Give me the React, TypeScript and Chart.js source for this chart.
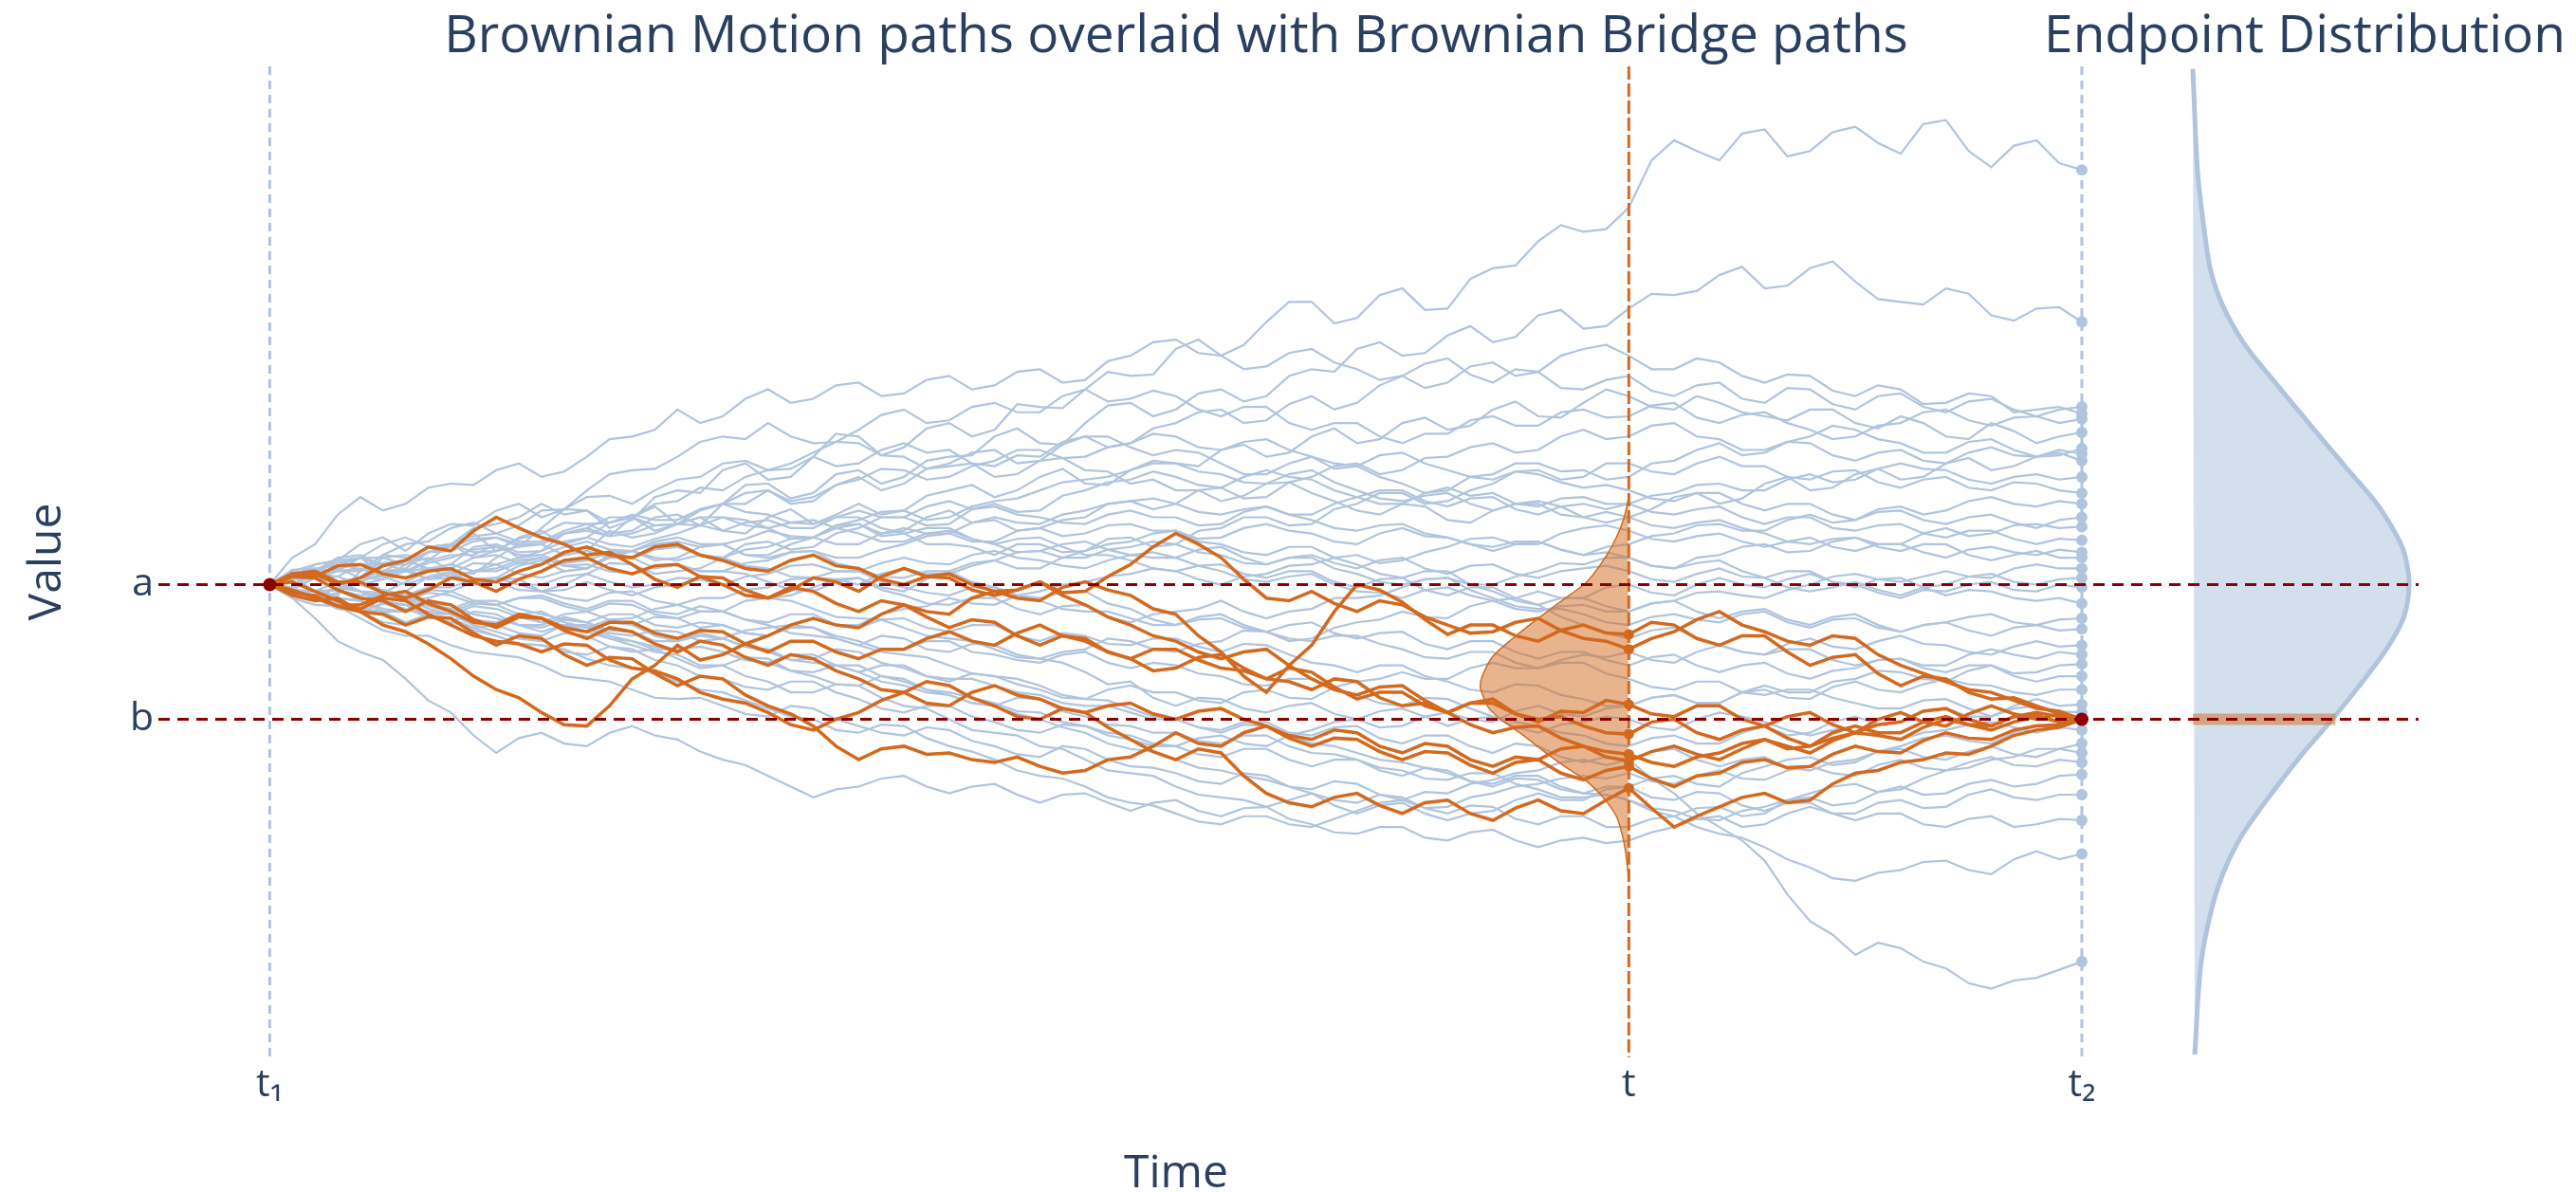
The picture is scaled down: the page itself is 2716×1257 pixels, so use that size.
import React, { useEffect, useRef } from 'react';
import { Chart, registerables } from 'chart.js';

Chart.register(...registerables);

// ---------------- data ----------------
const TIME = [0, 0.0125, 0.025, 0.0375, 0.05, 0.0625, 0.075, 0.0875, 0.1, 0.1125, 0.125, 0.1375, 0.15, 0.1625, 0.175, 0.1875, 0.2, 0.2125, 0.225, 0.2375,
  0.25, 0.2625, 0.275, 0.2875, 0.3, 0.3125, 0.325, 0.3375, 0.35, 0.3625, 0.375, 0.3875, 0.4, 0.4125, 0.425, 0.4375, 0.45, 0.4625, 0.475, 0.4875,
  0.5, 0.5125, 0.525, 0.5375, 0.55, 0.5625, 0.575, 0.5875, 0.6, 0.6125, 0.625, 0.6375, 0.65, 0.6625, 0.675, 0.6875, 0.7, 0.7125, 0.725, 0.7375,
  0.75, 0.7625, 0.775, 0.7875, 0.8, 0.8125, 0.825, 0.8375, 0.85, 0.8625, 0.875, 0.8875, 0.9, 0.9125, 0.925, 0.9375, 0.95, 0.9625, 0.975, 0.9875, 1];

const T_START = 0;
const T_MID = 0.75;
const T_END = 1;
const A_VALUE = 0;
const B_VALUE = -1;

const X_TICK_VALUES = [T_START, T_MID, T_END];
const X_TICK_LABELS = ['t\u2081', 't', 't\u2082'];
const Y_TICK_VALUES = [A_VALUE, B_VALUE];
const Y_TICK_LABELS = ['a', 'b'];

const MAIN_TITLE = 'Brownian Motion paths overlaid with Brownian Bridge paths';
const SIDE_TITLE = 'Endpoint Distribution';
const X_TITLE = 'Time';
const Y_TITLE = 'Value';

// Brownian motion paths (light blue)
const bm01 = [0, 0.11, 0.12, 0.0, 0.05, 0.2, 0.22, 0.18, 0.3, 0.38, 0.25, 0.28, 0.42, 0.56, 0.55, 0.42, 0.48, 0.65, 0.7, 0.68, 0.85, 0.9, 0.78, 0.8, 0.95, 1.12, 1.1, 0.96, 1.02, 1.16, 1.2, 1.1, 1.15, 1.34, 1.32, 1.31, 1.45, 1.58, 1.55, 1.56, 1.75, 1.82, 1.7, 1.78, 1.95, 2.1, 2.1, 1.94, 1.98, 2.15, 2.2, 2.04, 2.05, 2.27, 2.35, 2.37, 2.55, 2.67, 2.62, 2.64, 2.8, 3.15, 3.3, 3.22, 3.15, 3.35, 3.38, 3.18, 3.22, 3.36, 3.4, 3.28, 3.2, 3.42, 3.45, 3.22, 3.1, 3.26, 3.3, 3.13, 3.08];
const bm02 = [0, 0.06, -0.05, -0.08, 0.1, 0.22, 0.2, 0.1, 0.15, 0.28, 0.3, 0.2, 0.25, 0.38, 0.4, 0.36, 0.5, 0.58, 0.45, 0.44, 0.6, 0.74, 0.75, 0.64, 0.68, 0.82, 0.85, 0.75, 0.8, 0.92, 0.95, 0.96, 1.1, 1.16, 1.05, 1.04, 1.2, 1.33, 1.35, 1.25, 1.3, 1.42, 1.45, 1.36, 1.4, 1.55, 1.6, 1.58, 1.75, 1.8, 1.7, 1.72, 1.85, 1.92, 1.8, 1.84, 2.0, 2.04, 1.9, 1.92, 2.05, 2.16, 2.15, 2.18, 2.3, 2.36, 2.2, 2.22, 2.35, 2.4, 2.25, 2.12, 2.1, 2.08, 2.2, 2.16, 2.0, 1.96, 2.05, 2.06, 1.95];
const bm03 = [0, 0.2, 0.3, 0.52, 0.65, 0.55, 0.6, 0.72, 0.75, 0.74, 0.85, 0.9, 0.8, 0.84, 0.95, 1.08, 1.1, 1.15, 1.3, 1.2, 1.25, 1.38, 1.45, 1.35, 1.38, 1.48, 1.5, 1.4, 1.42, 1.52, 1.55, 1.45, 1.48, 1.58, 1.6, 1.5, 1.52, 1.66, 1.7, 1.8, 1.82, 1.72, 1.7, 1.6, 1.62, 1.72, 1.75, 1.65, 1.6, 1.52, 1.55, 1.64, 1.68, 1.56, 1.5, 1.6, 1.58, 1.46, 1.45, 1.52, 1.55, 1.44, 1.4, 1.48, 1.5, 1.38, 1.35, 1.46, 1.45, 1.34, 1.3, 1.4, 1.42, 1.32, 1.28, 1.36, 1.38, 1.3, 1.25, 1.3, 1.32];
const bm04 = [0, -0.02, 0.1, 0.18, 0.2, 0.08, 0.12, 0.24, 0.3, 0.2, 0.25, 0.35, 0.4, 0.3, 0.35, 0.46, 0.5, 0.4, 0.45, 0.56, 0.6, 0.6, 0.7, 0.6, 0.62, 0.74, 0.8, 0.7, 0.75, 0.86, 0.9, 0.98, 1.0, 0.9, 0.92, 1.04, 1.1, 1.02, 1.05, 1.16, 1.2, 1.28, 1.3, 1.2, 1.22, 1.34, 1.4, 1.3, 1.35, 1.48, 1.55, 1.46, 1.5, 1.62, 1.65, 1.55, 1.58, 1.7, 1.75, 1.78, 1.7, 1.6, 1.6, 1.68, 1.65, 1.55, 1.5, 1.56, 1.55, 1.44, 1.4, 1.48, 1.45, 1.34, 1.35, 1.42, 1.4, 1.28, 1.3, 1.32, 1.27];
const bm05 = [0, 0.1, 0.15, 0.18, 0.3, 0.35, 0.25, 0.38, 0.45, 0.44, 0.55, 0.6, 0.5, 0.56, 0.7, 0.82, 0.85, 0.86, 0.95, 1.06, 1.1, 1.08, 1.2, 1.1, 1.05, 1.06, 1.15, 1.26, 1.3, 1.2, 1.22, 1.32, 1.35, 1.28, 1.28, 1.4, 1.45, 1.36, 1.38, 1.44, 1.4, 1.3, 1.25, 1.32, 1.32, 1.2, 1.15, 1.2, 1.2, 1.1, 1.05, 1.12, 1.12, 1.22, 1.25, 1.18, 1.18, 1.28, 1.3, 1.24, 1.25, 1.33, 1.35, 1.24, 1.2, 1.26, 1.28, 1.2, 1.15, 1.08, 1.1, 1.18, 1.2, 1.28, 1.3, 1.22, 1.18, 1.24, 1.25, 1.2, 1.23];
const bm06 = [0, -0.08, -0.1, -0.06, 0.05, 0.04, 0.15, 0.2, 0.1, 0.08, 0.2, 0.3, 0.3, 0.22, 0.25, 0.4, 0.35, 0.38, 0.45, 0.5, 0.4, 0.38, 0.5, 0.56, 0.45, 0.52, 0.6, 0.52, 0.55, 0.66, 0.7, 0.74, 0.65, 0.7, 0.8, 0.86, 0.75, 0.74, 0.85, 0.92, 0.9, 0.88, 1.0, 1.04, 0.95, 0.98, 1.1, 1.16, 1.05, 1.08, 1.2, 1.24, 1.15, 1.18, 1.3, 1.36, 1.25, 1.24, 1.35, 1.45, 1.4, 1.32, 1.3, 1.4, 1.35, 1.28, 1.25, 1.22, 1.3, 1.3, 1.2, 1.16, 1.25, 1.2, 1.1, 1.08, 1.2, 1.14, 1.05, 1.1, 1.13];
const bm07 = [0, 0.1, 0.08, 0.1, 0.2, 0.3, 0.35, 0.28, 0.3, 0.42, 0.45, 0.5, 0.6, 0.52, 0.55, 0.46, 0.5, 0.6, 0.62, 0.72, 0.7, 0.8, 0.85, 0.86, 0.95, 0.88, 0.9, 1.0, 1.05, 0.98, 1.0, 0.9, 0.88, 0.96, 0.95, 1.06, 1.1, 1.1, 1.02, 0.96, 1.0, 0.98, 0.9, 0.82, 0.82, 0.9, 0.95, 0.86, 0.88, 0.8, 0.75, 0.68, 0.7, 0.8, 0.82, 0.9, 0.9, 0.84, 0.85, 0.78, 0.8, 0.9, 0.92, 1.0, 1.05, 0.96, 0.98, 1.06, 1.1, 1.18, 1.15, 1.08, 1.05, 0.98, 0.98, 1.06, 1.08, 1.0, 0.95, 0.96, 1.01];
const bm08 = [0, 0.02, -0.05, -0.14, -0.15, -0.08, -0.05, 0.06, 0.1, 0.0, 0.05, 0.14, 0.18, 0.1, 0.12, 0.22, 0.25, 0.18, 0.2, 0.28, 0.3, 0.22, 0.22, 0.3, 0.35, 0.42, 0.45, 0.38, 0.4, 0.5, 0.55, 0.46, 0.48, 0.4, 0.42, 0.48, 0.5, 0.6, 0.62, 0.56, 0.6, 0.7, 0.72, 0.64, 0.65, 0.76, 0.8, 0.88, 0.9, 0.82, 0.85, 0.94, 0.95, 1.02, 1.05, 0.98, 1.0, 1.1, 1.15, 1.08, 1.1, 1.18, 1.2, 1.1, 1.08, 1.0, 1.0, 1.06, 1.05, 0.96, 0.92, 0.98, 1.0, 0.92, 0.9, 0.98, 1.02, 0.96, 0.95, 1.0, 0.97];
const bm09 = [0, 0.05, 0.15, 0.18, 0.1, 0.22, 0.3, 0.32, 0.42, 0.46, 0.38, 0.44, 0.55, 0.56, 0.65, 0.66, 0.6, 0.7, 0.78, 0.8, 0.9, 0.92, 0.85, 0.9, 0.98, 1.06, 1.05, 0.96, 0.95, 0.86, 0.88, 0.9, 0.8, 0.82, 0.92, 0.94, 0.85, 0.84, 0.75, 0.78, 0.7, 0.7, 0.62, 0.66, 0.75, 0.76, 0.68, 0.62, 0.55, 0.52, 0.6, 0.58, 0.48, 0.46, 0.55, 0.6, 0.62, 0.58, 0.5, 0.46, 0.5, 0.56, 0.65, 0.68, 0.6, 0.64, 0.75, 0.8, 0.7, 0.72, 0.82, 0.86, 0.78, 0.8, 0.9, 0.94, 0.85, 0.88, 0.95, 0.98, 0.92];
const bm10 = [0, -0.04, 0.05, -0.04, -0.08, -0.06, 0.02, 0.1, 0.12, 0.04, 0.05, 0.04, -0.05, 0.0, 0.08, 0.16, 0.15, 0.08, 0.1, 0.12, 0.2, 0.3, 0.32, 0.26, 0.28, 0.38, 0.42, 0.5, 0.5, 0.44, 0.45, 0.56, 0.6, 0.54, 0.55, 0.66, 0.7, 0.76, 0.78, 0.84, 0.8, 0.74, 0.72, 0.8, 0.85, 0.8, 0.78, 0.7, 0.65, 0.7, 0.7, 0.62, 0.58, 0.64, 0.65, 0.56, 0.52, 0.58, 0.6, 0.56, 0.6, 0.66, 0.68, 0.74, 0.75, 0.7, 0.7, 0.78, 0.82, 0.76, 0.78, 0.86, 0.9, 0.86, 0.85, 0.78, 0.75, 0.8, 0.82, 0.78, 0.8];
const bm11 = [0, 0.08, 0.1, 0.2, 0.22, 0.14, 0.18, 0.28, 0.3, 0.24, 0.25, 0.34, 0.38, 0.46, 0.45, 0.38, 0.4, 0.5, 0.52, 0.44, 0.5, 0.48, 0.42, 0.34, 0.35, 0.44, 0.45, 0.36, 0.38, 0.3, 0.3, 0.28, 0.22, 0.3, 0.3, 0.24, 0.25, 0.34, 0.35, 0.28, 0.3, 0.4, 0.42, 0.5, 0.5, 0.44, 0.45, 0.56, 0.6, 0.68, 0.68, 0.6, 0.62, 0.7, 0.75, 0.84, 0.85, 0.78, 0.8, 0.9, 0.9, 0.84, 0.82, 0.9, 0.95, 0.88, 0.88, 0.8, 0.78, 0.84, 0.85, 0.76, 0.72, 0.78, 0.8, 0.72, 0.7, 0.76, 0.75, 0.7, 0.68];
const bm12 = [0, -0.06, -0.08, -0.16, -0.15, -0.08, -0.05, -0.14, -0.2, -0.26, -0.28, -0.22, -0.2, -0.28, -0.32, -0.26, -0.25, -0.18, -0.15, -0.2, -0.2, -0.12, -0.1, -0.08, -0.02, 0.04, 0.05, -0.02, -0.05, 0.04, 0.1, 0.16, 0.18, 0.12, 0.12, 0.2, 0.25, 0.3, 0.32, 0.38, 0.4, 0.34, 0.35, 0.42, 0.45, 0.4, 0.38, 0.32, 0.3, 0.38, 0.42, 0.36, 0.35, 0.3, 0.25, 0.3, 0.32, 0.26, 0.22, 0.28, 0.3, 0.36, 0.38, 0.44, 0.45, 0.4, 0.4, 0.48, 0.52, 0.46, 0.48, 0.56, 0.58, 0.52, 0.55, 0.62, 0.65, 0.6, 0.58, 0.62, 0.6];
const bm13 = [0, 0.04, 0.1, 0.12, 0.05, 0.1, 0.18, 0.24, 0.25, 0.32, 0.35, 0.28, 0.3, 0.38, 0.42, 0.5, 0.5, 0.44, 0.45, 0.55, 0.6, 0.68, 0.7, 0.62, 0.65, 0.74, 0.78, 0.86, 0.85, 0.78, 0.8, 0.88, 0.92, 1.0, 1.0, 0.94, 0.95, 1.02, 1.05, 1.12, 1.1, 1.02, 1.0, 1.06, 1.08, 1.0, 0.95, 0.9, 0.88, 0.96, 0.98, 0.9, 0.85, 0.8, 0.78, 0.84, 0.82, 0.76, 0.72, 0.74, 0.7, 0.64, 0.62, 0.68, 0.68, 0.6, 0.55, 0.6, 0.6, 0.52, 0.48, 0.54, 0.55, 0.48, 0.45, 0.5, 0.52, 0.46, 0.42, 0.48, 0.5];
const bm14 = [0, 0.02, -0.05, -0.04, 0.05, 0.1, 0.12, 0.04, 0.08, 0.16, 0.15, 0.08, 0.05, 0.1, 0.12, 0.2, 0.2, 0.12, 0.15, 0.1, 0.1, 0.08, 0.02, -0.04, -0.05, 0.02, 0.05, -0.04, -0.08, -0.14, -0.15, -0.1, -0.1, -0.18, -0.22, -0.16, -0.15, -0.24, -0.28, -0.22, -0.2, -0.18, -0.12, -0.2, -0.25, -0.2, -0.18, -0.1, -0.1, -0.08, -0.02, 0.04, 0.05, 0.0, 0.0, 0.06, 0.1, 0.16, 0.15, 0.2, 0.2, 0.14, 0.12, 0.2, 0.22, 0.28, 0.3, 0.24, 0.25, 0.32, 0.35, 0.3, 0.3, 0.38, 0.42, 0.36, 0.38, 0.44, 0.45, 0.42, 0.43];
const bm15 = [0, 0.06, 0.08, 0.06, 0.15, 0.16, 0.1, 0.18, 0.22, 0.22, 0.3, 0.24, 0.25, 0.32, 0.35, 0.3, 0.28, 0.34, 0.38, 0.44, 0.4, 0.46, 0.48, 0.42, 0.42, 0.5, 0.55, 0.5, 0.5, 0.58, 0.62, 0.56, 0.58, 0.52, 0.5, 0.46, 0.45, 0.52, 0.55, 0.5, 0.5, 0.44, 0.45, 0.54, 0.58, 0.52, 0.52, 0.6, 0.65, 0.6, 0.6, 0.68, 0.72, 0.66, 0.68, 0.6, 0.58, 0.64, 0.65, 0.6, 0.6, 0.54, 0.52, 0.56, 0.58, 0.5, 0.45, 0.5, 0.5, 0.42, 0.4, 0.44, 0.45, 0.38, 0.35, 0.4, 0.4, 0.34, 0.3, 0.34, 0.33];
const bm16 = [0, 0.02, -0.05, -0.1, -0.12, -0.18, -0.2, -0.14, -0.15, -0.22, -0.25, -0.3, -0.32, -0.26, -0.28, -0.36, -0.38, -0.34, -0.35, -0.42, -0.4, -0.34, -0.32, -0.3, -0.25, -0.3, -0.3, -0.22, -0.18, -0.16, -0.1, -0.14, -0.15, -0.08, -0.05, 0.0, 0.02, 0.06, 0.08, 0.12, 0.1, 0.04, 0.0, 0.06, 0.08, 0.14, 0.15, 0.2, 0.22, 0.16, 0.18, 0.24, 0.28, 0.34, 0.35, 0.3, 0.3, 0.38, 0.42, 0.44, 0.4, 0.34, 0.32, 0.36, 0.38, 0.32, 0.28, 0.32, 0.35, 0.28, 0.25, 0.3, 0.3, 0.24, 0.2, 0.26, 0.28, 0.24, 0.22, 0.26, 0.24];
const bm17 = [0, -0.02, 0.05, 0.06, 0.0, 0.04, 0.1, 0.12, 0.05, 0.1, 0.15, 0.2, 0.22, 0.16, 0.18, 0.24, 0.25, 0.3, 0.32, 0.28, 0.3, 0.34, 0.4, 0.36, 0.35, 0.44, 0.48, 0.54, 0.55, 0.48, 0.5, 0.58, 0.62, 0.64, 0.7, 0.76, 0.78, 0.8, 0.85, 0.9, 0.9, 0.84, 0.82, 0.76, 0.75, 0.82, 0.85, 0.76, 0.7, 0.64, 0.62, 0.66, 0.68, 0.6, 0.55, 0.6, 0.6, 0.52, 0.5, 0.54, 0.5, 0.44, 0.42, 0.46, 0.48, 0.42, 0.38, 0.32, 0.3, 0.34, 0.35, 0.28, 0.25, 0.3, 0.3, 0.22, 0.18, 0.22, 0.25, 0.2, 0.2];
const bm18 = [0, 0.04, 0.05, 0.02, -0.05, -0.06, -0.12, -0.1, -0.05, 0.02, 0.05, 0.0, 0.0, 0.06, 0.08, 0.02, -0.02, 0.0, 0.05, 0.04, 0.0, 0.06, 0.08, 0.14, 0.15, 0.1, 0.1, 0.16, 0.2, 0.16, 0.15, 0.22, 0.25, 0.2, 0.18, 0.14, 0.12, 0.18, 0.22, 0.2, 0.2, 0.14, 0.1, 0.04, 0.02, 0.06, 0.08, 0.0, -0.05, -0.06, -0.1, -0.04, -0.02, -0.08, -0.12, -0.18, -0.2, -0.16, -0.15, -0.2, -0.2, -0.14, -0.12, -0.06, -0.05, -0.08, -0.1, -0.04, 0.0, 0.06, 0.08, 0.04, 0.02, 0.06, 0.1, 0.06, 0.05, 0.12, 0.15, 0.12, 0.12];
const bm19 = [0, 0.06, 0.1, 0.16, 0.2, 0.14, 0.15, 0.24, 0.28, 0.34, 0.35, 0.3, 0.3, 0.38, 0.42, 0.36, 0.38, 0.44, 0.45, 0.5, 0.5, 0.44, 0.42, 0.46, 0.48, 0.42, 0.38, 0.32, 0.32, 0.38, 0.4, 0.34, 0.3, 0.24, 0.25, 0.3, 0.32, 0.26, 0.22, 0.24, 0.2, 0.26, 0.28, 0.2, 0.15, 0.2, 0.22, 0.16, 0.12, 0.18, 0.2, 0.12, 0.08, 0.14, 0.15, 0.08, 0.05, 0.1, 0.12, 0.14, 0.1, 0.04, 0.02, 0.08, 0.12, 0.06, 0.05, -0.02, -0.05, -0.02, 0.02, -0.04, -0.08, -0.02, 0.0, 0.06, 0.08, 0.02, 0.0, 0.04, 0.05];
const bm20 = [0, -0.06, -0.1, -0.02, -0.05, -0.12, -0.15, -0.2, -0.22, -0.16, -0.18, -0.24, -0.28, -0.22, -0.2, -0.26, -0.3, -0.24, -0.25, -0.32, -0.3, -0.36, -0.38, -0.3, -0.32, -0.4, -0.45, -0.38, -0.4, -0.48, -0.5, -0.44, -0.45, -0.52, -0.55, -0.5, -0.48, -0.4, -0.42, -0.48, -0.5, -0.44, -0.42, -0.34, -0.35, -0.42, -0.4, -0.32, -0.28, -0.26, -0.2, -0.24, -0.25, -0.16, -0.12, -0.1, -0.05, -0.1, -0.1, -0.02, 0.0, -0.06, -0.08, 0.0, 0.05, 0.0, -0.02, 0.04, 0.08, 0.02, 0.0, -0.06, -0.1, -0.04, -0.05, 0.0, 0.02, -0.04, -0.05, 0.0, -0.02];
const bm21 = [0, 0.04, 0.05, 0.1, 0.12, 0.06, 0.05, 0.12, 0.15, 0.1, 0.1, 0.16, 0.2, 0.14, 0.12, 0.2, 0.25, 0.2, 0.18, 0.22, 0.2, 0.26, 0.28, 0.34, 0.35, 0.3, 0.3, 0.38, 0.42, 0.38, 0.38, 0.46, 0.5, 0.46, 0.45, 0.52, 0.55, 0.6, 0.62, 0.64, 0.6, 0.54, 0.52, 0.56, 0.58, 0.52, 0.48, 0.42, 0.4, 0.44, 0.45, 0.38, 0.35, 0.3, 0.28, 0.32, 0.32, 0.26, 0.22, 0.24, 0.2, 0.14, 0.12, 0.16, 0.18, 0.1, 0.05, 0.1, 0.1, 0.02, -0.02, 0.04, 0.05, -0.02, -0.08, -0.04, -0.05, -0.1, -0.12, -0.1, -0.14];
const bm22 = [0, 0.02, -0.05, -0.04, 0.02, -0.04, -0.08, -0.02, -0.02, 0.04, 0.05, 0.0, -0.05, -0.1, -0.12, -0.06, -0.05, -0.12, -0.15, -0.1, -0.1, -0.04, -0.02, 0.04, 0.05, 0.04, 0.0, 0.08, 0.12, 0.08, 0.08, 0.14, 0.18, 0.24, 0.25, 0.2, 0.2, 0.26, 0.28, 0.32, 0.3, 0.24, 0.22, 0.16, 0.15, 0.2, 0.2, 0.12, 0.08, 0.02, 0.0, 0.04, 0.05, -0.04, -0.1, -0.16, -0.18, -0.18, -0.22, -0.28, -0.3, -0.24, -0.22, -0.26, -0.28, -0.22, -0.2, -0.28, -0.32, -0.26, -0.25, -0.32, -0.35, -0.3, -0.28, -0.24, -0.22, -0.28, -0.3, -0.26, -0.25];
const bm23 = [0, 0.08, 0.12, 0.14, 0.2, 0.2, 0.15, 0.24, 0.3, 0.36, 0.38, 0.32, 0.32, 0.4, 0.45, 0.46, 0.52, 0.48, 0.48, 0.56, 0.6, 0.54, 0.52, 0.46, 0.45, 0.5, 0.5, 0.42, 0.38, 0.42, 0.42, 0.34, 0.3, 0.34, 0.35, 0.28, 0.22, 0.22, 0.18, 0.12, 0.1, 0.14, 0.15, 0.08, 0.05, 0.1, 0.1, 0.02, -0.02, 0.04, 0.05, -0.04, -0.08, -0.02, -0.02, -0.1, -0.15, -0.1, -0.1, -0.16, -0.2, -0.14, -0.12, -0.2, -0.25, -0.2, -0.18, -0.26, -0.3, -0.24, -0.22, -0.3, -0.35, -0.3, -0.28, -0.34, -0.38, -0.32, -0.3, -0.34, -0.33];
const bm24 = [0, -0.08, -0.1, -0.12, -0.2, -0.14, -0.15, -0.24, -0.28, -0.2, -0.22, -0.3, -0.35, -0.3, -0.3, -0.38, -0.42, -0.48, -0.48, -0.46, -0.5, -0.56, -0.58, -0.52, -0.52, -0.6, -0.65, -0.6, -0.6, -0.68, -0.72, -0.66, -0.68, -0.74, -0.78, -0.84, -0.85, -0.78, -0.75, -0.8, -0.8, -0.86, -0.88, -0.8, -0.78, -0.84, -0.85, -0.76, -0.72, -0.7, -0.65, -0.7, -0.7, -0.62, -0.58, -0.62, -0.62, -0.56, -0.52, -0.54, -0.5, -0.56, -0.58, -0.5, -0.45, -0.5, -0.52, -0.44, -0.4, -0.46, -0.48, -0.42, -0.38, -0.44, -0.45, -0.5, -0.52, -0.46, -0.42, -0.46, -0.45];
const bm25 = [0, 0.04, 0.05, 0.12, 0.15, 0.1, 0.1, 0.16, 0.2, 0.26, 0.28, 0.22, 0.22, 0.28, 0.32, 0.26, 0.25, 0.32, 0.35, 0.3, 0.3, 0.22, 0.2, 0.24, 0.25, 0.16, 0.12, 0.06, 0.05, 0.1, 0.1, 0.02, -0.02, -0.08, -0.1, -0.06, -0.05, -0.14, -0.18, -0.26, -0.3, -0.24, -0.22, -0.3, -0.35, -0.3, -0.28, -0.36, -0.4, -0.36, -0.35, -0.44, -0.48, -0.42, -0.42, -0.5, -0.55, -0.5, -0.5, -0.56, -0.6, -0.54, -0.52, -0.6, -0.65, -0.6, -0.58, -0.66, -0.7, -0.64, -0.62, -0.56, -0.55, -0.6, -0.6, -0.52, -0.48, -0.52, -0.55, -0.5, -0.52];
const bm26 = [0, -0.06, -0.08, -0.02, 0.0, -0.06, -0.1, -0.04, -0.05, -0.12, -0.15, -0.1, -0.08, -0.14, -0.18, -0.12, -0.12, -0.2, -0.22, -0.16, -0.2, -0.26, -0.28, -0.22, -0.22, -0.3, -0.32, -0.26, -0.25, -0.32, -0.35, -0.3, -0.3, -0.38, -0.42, -0.36, -0.38, -0.44, -0.45, -0.4, -0.4, -0.46, -0.5, -0.44, -0.45, -0.52, -0.58, -0.6, -0.65, -0.6, -0.6, -0.68, -0.72, -0.78, -0.8, -0.74, -0.75, -0.82, -0.85, -0.9, -0.9, -0.84, -0.82, -0.88, -0.88, -0.8, -0.75, -0.8, -0.8, -0.72, -0.7, -0.64, -0.65, -0.7, -0.72, -0.64, -0.6, -0.66, -0.65, -0.6, -0.59];
const bm27 = [0, 0.06, 0.08, 0.02, 0.02, 0.08, 0.1, 0.04, 0.05, 0.1, 0.12, 0.18, 0.2, 0.14, 0.15, 0.1, 0.08, 0.14, 0.15, 0.1, 0.1, 0.16, 0.18, 0.24, 0.25, 0.2, 0.2, 0.26, 0.3, 0.36, 0.38, 0.32, 0.32, 0.4, 0.42, 0.36, 0.38, 0.44, 0.45, 0.4, 0.4, 0.32, 0.3, 0.24, 0.22, 0.28, 0.28, 0.2, 0.15, 0.08, 0.05, 0.1, 0.1, 0.0, -0.05, -0.12, -0.15, -0.24, -0.3, -0.36, -0.4, -0.34, -0.32, -0.4, -0.45, -0.5, -0.52, -0.48, -0.48, -0.56, -0.6, -0.56, -0.55, -0.62, -0.65, -0.6, -0.6, -0.68, -0.72, -0.68, -0.68];
const bm28 = [0, -0.08, -0.12, -0.1, -0.2, -0.28, -0.3, -0.24, -0.25, -0.34, -0.38, -0.44, -0.45, -0.5, -0.52, -0.46, -0.48, -0.56, -0.6, -0.68, -0.7, -0.76, -0.78, -0.72, -0.72, -0.8, -0.85, -0.92, -0.95, -0.9, -0.9, -0.98, -1.02, -1.08, -1.1, -1.04, -1.05, -1.12, -1.15, -1.2, -1.2, -1.14, -1.12, -1.18, -1.2, -1.12, -1.08, -1.02, -1.0, -1.06, -1.05, -0.98, -0.95, -1.0, -1.02, -0.94, -0.9, -0.96, -0.98, -0.92, -0.9, -0.84, -0.82, -0.88, -0.88, -0.8, -0.78, -0.84, -0.85, -0.76, -0.72, -0.78, -0.8, -0.74, -0.7, -0.74, -0.75, -0.8, -0.82, -0.78, -0.78];
const bm29 = [0, -0.04, -0.05, -0.1, -0.12, -0.06, -0.08, -0.14, -0.18, -0.12, -0.12, -0.18, -0.22, -0.26, -0.28, -0.22, -0.22, -0.3, -0.32, -0.28, -0.3, -0.36, -0.38, -0.32, -0.32, -0.38, -0.42, -0.48, -0.48, -0.42, -0.42, -0.5, -0.52, -0.56, -0.58, -0.52, -0.5, -0.58, -0.62, -0.58, -0.6, -0.66, -0.68, -0.74, -0.75, -0.7, -0.7, -0.78, -0.82, -0.88, -0.9, -0.84, -0.85, -0.92, -0.98, -1.02, -1.05, -1.1, -1.12, -1.18, -1.2, -1.14, -1.12, -1.18, -1.18, -1.1, -1.05, -1.12, -1.1, -1.02, -0.98, -1.04, -1.02, -0.94, -0.92, -0.98, -0.98, -0.9, -0.85, -0.9, -0.89];
const bm30 = [0, 0.04, 0.05, 0.1, 0.1, 0.16, 0.18, 0.12, 0.12, 0.2, 0.22, 0.16, 0.15, 0.22, 0.25, 0.2, 0.2, 0.26, 0.28, 0.22, 0.2, 0.14, 0.12, 0.06, 0.05, 0.1, 0.1, 0.02, -0.02, -0.06, -0.08, -0.02, -0.02, -0.08, -0.12, -0.18, -0.2, -0.2, -0.25, -0.3, -0.3, -0.26, -0.25, -0.32, -0.35, -0.4, -0.42, -0.38, -0.38, -0.44, -0.48, -0.54, -0.55, -0.5, -0.5, -0.58, -0.62, -0.58, -0.58, -0.66, -0.7, -0.76, -0.78, -0.72, -0.72, -0.8, -0.82, -0.78, -0.78, -0.84, -0.88, -0.92, -0.92, -0.86, -0.85, -0.92, -0.98, -0.92, -0.9, -0.94, -0.95];
const bm31 = [0, -0.06, -0.1, -0.16, -0.18, -0.2, -0.28, -0.22, -0.22, -0.3, -0.35, -0.4, -0.42, -0.36, -0.38, -0.46, -0.5, -0.48, -0.55, -0.62, -0.6, -0.68, -0.72, -0.8, -0.8, -0.74, -0.75, -0.84, -0.9, -0.92, -1.0, -1.08, -1.1, -1.12, -1.2, -1.22, -1.3, -1.38, -1.4, -1.42, -1.5, -1.56, -1.58, -1.6, -1.65, -1.6, -1.55, -1.64, -1.7, -1.64, -1.62, -1.7, -1.75, -1.7, -1.68, -1.6, -1.55, -1.6, -1.6, -1.52, -1.5, -1.44, -1.42, -1.48, -1.5, -1.4, -1.35, -1.3, -1.28, -1.34, -1.32, -1.24, -1.2, -1.14, -1.12, -1.16, -1.18, -1.1, -1.05, -1.06, -1.01];
const bm32 = [0, 0.02, -0.05, 0.02, 0.05, 0.06, 0.0, 0.06, 0.08, 0.0, 0.02, -0.04, -0.05, -0.04, 0.02, -0.04, -0.08, -0.02, 0.0, 0.04, 0.0, -0.08, -0.1, -0.12, -0.18, -0.24, -0.25, -0.26, -0.32, -0.38, -0.4, -0.42, -0.48, -0.54, -0.55, -0.58, -0.65, -0.74, -0.72, -0.84, -0.9, -0.84, -0.85, -0.92, -0.95, -0.9, -0.88, -0.96, -1.0, -0.94, -0.92, -0.98, -1.05, -1.0, -0.98, -1.06, -1.1, -1.04, -1.02, -0.98, -1.0, -1.06, -1.08, -1.0, -0.95, -0.98, -1.02, -1.08, -1.12, -1.08, -1.05, -1.12, -1.15, -1.1, -1.08, -1.04, -1.02, -1.06, -1.1, -1.06, -1.08];
const bm33 = [0, -0.1, -0.15, -0.16, -0.25, -0.34, -0.38, -0.38, -0.45, -0.5, -0.52, -0.54, -0.6, -0.68, -0.7, -0.72, -0.78, -0.84, -0.85, -0.84, -0.9, -0.96, -0.98, -0.9, -0.92, -1.0, -1.05, -1.1, -1.12, -1.06, -1.08, -1.16, -1.2, -1.26, -1.28, -1.2, -1.22, -1.3, -1.35, -1.36, -1.4, -1.46, -1.48, -1.4, -1.42, -1.5, -1.55, -1.6, -1.62, -1.56, -1.58, -1.66, -1.7, -1.64, -1.65, -1.74, -1.78, -1.72, -1.72, -1.8, -1.8, -1.74, -1.72, -1.66, -1.65, -1.72, -1.7, -1.6, -1.55, -1.5, -1.48, -1.54, -1.52, -1.44, -1.38, -1.36, -1.3, -1.28, -1.22, -1.22, -1.18];
const bm34 = [0, -0.06, -0.05, -0.04, -0.12, -0.2, -0.2, -0.14, -0.15, -0.22, -0.25, -0.3, -0.3, -0.24, -0.28, -0.34, -0.35, -0.42, -0.42, -0.36, -0.4, -0.46, -0.48, -0.56, -0.55, -0.48, -0.5, -0.58, -0.62, -0.68, -0.7, -0.7, -0.75, -0.8, -0.82, -0.88, -0.9, -0.9, -0.95, -1.0, -1.0, -1.06, -1.08, -1.02, -1.02, -1.1, -1.12, -1.06, -1.05, -1.14, -1.18, -1.12, -1.12, -1.2, -1.25, -1.18, -1.2, -1.28, -1.32, -1.28, -1.3, -1.24, -1.22, -1.3, -1.35, -1.3, -1.28, -1.36, -1.38, -1.32, -1.3, -1.24, -1.22, -1.28, -1.3, -1.24, -1.2, -1.26, -1.28, -1.22, -1.25];
const bm35 = [0, -0.04, -0.1, -0.18, -0.2, -0.14, -0.15, -0.24, -0.28, -0.32, -0.38, -0.44, -0.45, -0.48, -0.55, -0.6, -0.62, -0.66, -0.72, -0.78, -0.8, -0.86, -0.92, -0.98, -1.0, -1.08, -1.1, -1.04, -1.05, -1.14, -1.2, -1.24, -1.3, -1.38, -1.42, -1.44, -1.5, -1.58, -1.62, -1.64, -1.7, -1.76, -1.78, -1.72, -1.72, -1.78, -1.8, -1.74, -1.68, -1.62, -1.6, -1.66, -1.65, -1.58, -1.55, -1.5, -1.48, -1.44, -1.42, -1.44, -1.4, -1.46, -1.48, -1.42, -1.38, -1.44, -1.45, -1.38, -1.35, -1.4, -1.42, -1.34, -1.3, -1.36, -1.38, -1.32, -1.28, -1.34, -1.35, -1.3, -1.32];
const bm36 = [0, 0.04, 0.05, 0.02, -0.05, -0.1, -0.12, -0.06, -0.08, -0.14, -0.15, -0.1, -0.1, -0.16, -0.2, -0.14, -0.15, -0.22, -0.25, -0.2, -0.2, -0.26, -0.3, -0.36, -0.38, -0.4, -0.45, -0.5, -0.52, -0.54, -0.6, -0.66, -0.68, -0.7, -0.75, -0.82, -0.85, -0.86, -0.92, -0.98, -1.0, -1.06, -1.1, -1.04, -1.05, -1.12, -1.18, -1.2, -1.25, -1.3, -1.32, -1.36, -1.4, -1.46, -1.48, -1.42, -1.42, -1.5, -1.55, -1.56, -1.6, -1.66, -1.68, -1.74, -1.75, -1.68, -1.65, -1.6, -1.58, -1.64, -1.62, -1.54, -1.5, -1.56, -1.55, -1.48, -1.45, -1.5, -1.48, -1.42, -1.41];
const bm37 = [0, -0.1, -0.25, -0.42, -0.5, -0.56, -0.7, -0.86, -0.95, -1.12, -1.25, -1.14, -1.1, -1.18, -1.2, -1.1, -1.05, -1.12, -1.15, -1.24, -1.3, -1.34, -1.42, -1.5, -1.58, -1.52, -1.5, -1.44, -1.42, -1.5, -1.55, -1.5, -1.48, -1.56, -1.62, -1.56, -1.55, -1.62, -1.68, -1.62, -1.6, -1.68, -1.72, -1.66, -1.65, -1.74, -1.78, -1.84, -1.85, -1.8, -1.8, -1.88, -1.9, -1.84, -1.82, -1.9, -1.95, -1.9, -1.88, -1.92, -1.9, -1.84, -1.8, -1.74, -1.72, -1.8, -1.78, -1.7, -1.65, -1.7, -1.7, -1.62, -1.6, -1.66, -1.65, -1.56, -1.52, -1.58, -1.6, -1.56, -1.56];
const bm38 = [0, -0.06, -0.08, -0.14, -0.15, -0.1, -0.1, -0.18, -0.22, -0.28, -0.3, -0.24, -0.25, -0.32, -0.35, -0.4, -0.42, -0.46, -0.48, -0.46, -0.5, -0.56, -0.58, -0.64, -0.65, -0.6, -0.6, -0.68, -0.72, -0.78, -0.8, -0.84, -0.88, -0.94, -0.95, -1.02, -1.05, -1.1, -1.12, -1.18, -1.2, -1.26, -1.28, -1.22, -1.22, -1.3, -1.35, -1.3, -1.3, -1.38, -1.42, -1.36, -1.38, -1.46, -1.5, -1.44, -1.45, -1.52, -1.55, -1.5, -1.5, -1.58, -1.6, -1.54, -1.55, -1.64, -1.68, -1.62, -1.62, -1.7, -1.75, -1.7, -1.7, -1.78, -1.8, -1.74, -1.72, -1.8, -1.78, -1.74, -1.75];
const bm39 = [0, -0.08, -0.1, -0.02, -0.05, -0.14, -0.18, -0.24, -0.25, -0.32, -0.3, -0.36, -0.38, -0.3, -0.32, -0.4, -0.45, -0.5, -0.52, -0.6, -0.6, -0.54, -0.55, -0.64, -0.68, -0.74, -0.75, -0.68, -0.7, -0.78, -0.82, -0.88, -0.9, -0.84, -0.85, -0.94, -0.98, -1.04, -1.05, -1.1, -1.1, -1.16, -1.18, -1.12, -1.12, -1.2, -1.25, -1.26, -1.3, -1.36, -1.38, -1.44, -1.45, -1.4, -1.4, -1.48, -1.52, -1.58, -1.58, -1.56, -1.6, -1.68, -1.72, -1.8, -1.85, -1.88, -1.95, -2.04, -2.1, -2.18, -2.2, -2.14, -2.12, -2.06, -2.05, -2.12, -2.15, -2.04, -1.98, -2.04, -2.0];
const bm40 = [0, -0.04, -0.05, -0.1, -0.12, -0.06, -0.08, -0.16, -0.2, -0.14, -0.15, -0.22, -0.28, -0.3, -0.35, -0.28, -0.3, -0.38, -0.42, -0.38, -0.4, -0.46, -0.5, -0.56, -0.58, -0.6, -0.65, -0.72, -0.75, -0.8, -0.82, -0.88, -0.9, -0.96, -1.0, -1.06, -1.1, -1.18, -1.22, -1.24, -1.3, -1.36, -1.38, -1.42, -1.45, -1.5, -1.52, -1.46, -1.48, -1.56, -1.6, -1.54, -1.55, -1.48, -1.45, -1.4, -1.38, -1.32, -1.3, -1.34, -1.3, -1.44, -1.55, -1.7, -1.8, -1.9, -2.05, -2.3, -2.5, -2.6, -2.75, -2.66, -2.7, -2.8, -2.85, -2.96, -3.0, -2.94, -2.92, -2.86, -2.8];

const BM_PATHS = [bm01, bm02, bm03, bm04, bm05, bm06, bm07, bm08, bm09, bm10, bm11, bm12, bm13, bm14, bm15, bm16, bm17, bm18, bm19, bm20,
  bm21, bm22, bm23, bm24, bm25, bm26, bm27, bm28, bm29, bm30, bm31, bm32, bm33, bm34, bm35, bm36, bm37, bm38, bm39, bm40];

// Brownian bridge paths (orange), from a at t1 to b at t2
const bb1 = [0, 0.06, 0.08, 0.0, 0.05, 0.14, 0.18, 0.28, 0.25, 0.4, 0.5, 0.42, 0.35, 0.3, 0.22, 0.24, 0.15, 0.04, -0.02, 0.06, 0.05, -0.04, -0.1, -0.02, -0.05, -0.14, -0.2, -0.12, -0.15, -0.24, -0.32, -0.26, -0.28, -0.38, -0.45, -0.38, -0.4, -0.5, -0.55, -0.64, -0.62, -0.54, -0.52, -0.62, -0.7, -0.72, -0.78, -0.7, -0.72, -0.84, -0.9, -0.88, -0.95, -0.88, -0.85, -0.96, -1.02, -0.94, -0.95, -0.86, -0.89, -0.96, -0.98, -0.9, -0.9, -1.0, -1.05, -0.98, -0.95, -1.04, -1.1, -1.04, -1.02, -0.94, -0.92, -1.0, -1.05, -0.98, -0.97, -1.02, -1];
const bb2 = [0, -0.08, -0.12, -0.1, -0.2, -0.3, -0.35, -0.44, -0.55, -0.68, -0.78, -0.84, -0.95, -1.04, -1.05, -0.9, -0.7, -0.6, -0.45, -0.56, -0.52, -0.44, -0.38, -0.3, -0.25, -0.3, -0.32, -0.22, -0.15, -0.2, -0.22, -0.1, -0.05, -0.1, -0.12, -0.02, 0.02, -0.04, -0.08, -0.18, -0.22, -0.38, -0.5, -0.68, -0.8, -0.6, -0.45, -0.2, 0.0, -0.04, -0.13, -0.26, -0.37, -0.3, -0.3, -0.38, -0.42, -0.34, -0.3, -0.36, -0.37, -0.28, -0.3, -0.4, -0.45, -0.38, -0.38, -0.5, -0.6, -0.54, -0.52, -0.66, -0.75, -0.68, -0.7, -0.8, -0.85, -0.84, -0.9, -0.96, -1];
const bb3 = [0, 0.08, 0.1, 0.02, 0.02, -0.06, -0.1, -0.04, 0.05, 0.02, -0.05, 0.04, 0.1, 0.18, 0.2, 0.12, 0.08, 0.14, 0.15, 0.06, 0.0, -0.08, -0.1, -0.04, 0.05, 0.02, -0.05, 0.06, 0.12, 0.06, 0.05, -0.04, -0.08, -0.04, 0.02, -0.06, -0.05, 0.06, 0.15, 0.28, 0.38, 0.3, 0.2, 0.04, -0.1, -0.12, -0.05, -0.14, -0.2, -0.12, -0.15, -0.24, -0.3, -0.36, -0.35, -0.28, -0.25, -0.34, -0.4, -0.42, -0.48, -0.4, -0.35, -0.26, -0.2, -0.3, -0.35, -0.42, -0.45, -0.38, -0.4, -0.52, -0.6, -0.66, -0.72, -0.78, -0.8, -0.86, -0.92, -0.94, -1];
const bb4 = [0, -0.04, -0.1, -0.16, -0.15, -0.08, -0.05, -0.14, -0.2, -0.28, -0.3, -0.22, -0.25, -0.34, -0.4, -0.32, -0.35, -0.44, -0.5, -0.42, -0.45, -0.54, -0.6, -0.52, -0.55, -0.64, -0.7, -0.78, -0.8, -0.72, -0.75, -0.84, -0.9, -0.98, -1.0, -0.92, -0.95, -1.06, -1.15, -1.24, -1.3, -1.22, -1.25, -1.42, -1.55, -1.62, -1.65, -1.58, -1.55, -1.64, -1.7, -1.62, -1.6, -1.7, -1.75, -1.66, -1.6, -1.68, -1.7, -1.6, -1.51, -1.66, -1.8, -1.72, -1.65, -1.58, -1.55, -1.62, -1.6, -1.48, -1.4, -1.38, -1.32, -1.3, -1.25, -1.26, -1.2, -1.12, -1.08, -1.06, -1];
const bb5 = [0, -0.06, -0.08, -0.16, -0.2, -0.22, -0.3, -0.24, -0.25, -0.36, -0.45, -0.38, -0.4, -0.52, -0.6, -0.54, -0.55, -0.66, -0.75, -0.68, -0.7, -0.82, -0.9, -0.96, -1.05, -1.2, -1.3, -1.22, -1.2, -1.26, -1.25, -1.3, -1.32, -1.28, -1.35, -1.4, -1.38, -1.3, -1.28, -1.2, -1.1, -1.18, -1.2, -1.1, -1.05, -1.14, -1.2, -1.14, -1.15, -1.24, -1.3, -1.24, -1.25, -1.34, -1.4, -1.32, -1.3, -1.4, -1.45, -1.38, -1.35, -1.44, -1.5, -1.42, -1.4, -1.32, -1.3, -1.36, -1.35, -1.26, -1.2, -1.24, -1.25, -1.16, -1.1, -1.14, -1.15, -1.08, -1.05, -1.04, -1];
const bb6 = [0, 0.06, 0.05, -0.04, -0.1, -0.12, -0.2, -0.12, -0.15, -0.26, -0.32, -0.24, -0.25, -0.32, -0.35, -0.28, -0.28, -0.36, -0.4, -0.34, -0.35, -0.44, -0.5, -0.42, -0.42, -0.5, -0.55, -0.48, -0.48, -0.4, -0.35, -0.42, -0.45, -0.36, -0.3, -0.38, -0.42, -0.5, -0.55, -0.48, -0.48, -0.56, -0.62, -0.64, -0.7, -0.62, -0.65, -0.76, -0.85, -0.8, -0.8, -0.9, -0.95, -0.88, -0.88, -0.96, -1.0, -0.98, -1.05, -1.1, -1.11, -1.02, -1.0, -1.1, -1.15, -1.08, -1.05, -1.14, -1.2, -1.14, -1.1, -1.0, -0.95, -1.02, -1.05, -0.96, -0.9, -0.96, -1.0, -0.96, -1];
const bb7 = [0, 0.02, -0.05, -0.12, -0.18, -0.1, -0.12, -0.22, -0.3, -0.38, -0.42, -0.44, -0.5, -0.44, -0.45, -0.56, -0.62, -0.64, -0.7, -0.8, -0.85, -0.88, -0.95, -1.04, -1.08, -1.0, -0.95, -0.86, -0.8, -0.88, -0.9, -0.8, -0.75, -0.82, -0.85, -0.92, -0.95, -0.9, -0.88, -0.96, -1.0, -0.94, -0.92, -1.0, -1.05, -1.12, -1.15, -1.08, -1.1, -1.2, -1.25, -1.18, -1.2, -1.3, -1.35, -1.28, -1.3, -1.22, -1.2, -1.24, -1.26, -1.32, -1.35, -1.28, -1.25, -1.18, -1.15, -1.22, -1.2, -1.1, -1.05, -1.1, -1.1, -1.02, -0.98, -1.04, -1.05, -0.98, -0.95, -0.98, -1];
const bb8 = [0, 0.08, 0.06, 0.14, 0.15, 0.08, 0.05, 0.1, 0.12, 0.04, 0.02, 0.1, 0.15, 0.24, 0.28, 0.22, 0.2, 0.28, 0.3, 0.22, 0.18, 0.12, 0.1, 0.18, 0.22, 0.14, 0.12, 0.04, 0.0, 0.06, 0.08, 0.0, -0.05, -0.04, 0.02, -0.08, -0.15, -0.24, -0.3, -0.38, -0.42, -0.5, -0.55, -0.5, -0.48, -0.6, -0.7, -0.78, -0.82, -0.76, -0.75, -0.86, -0.95, -1.04, -1.1, -1.06, -1.05, -1.14, -1.2, -1.28, -1.31, -1.24, -1.2, -1.26, -1.3, -1.22, -1.15, -1.2, -1.25, -1.16, -1.1, -1.12, -1.15, -1.06, -1.0, -1.04, -1.08, -1.02, -0.98, -1.02, -1];

const BB_PATHS = [bb1, bb2, bb3, bb4, bb5, bb6, bb7, bb8];

// Distribution of the bridge at time t (relative height, 1 = peak)
const BRIDGE_DENS_VALUE = [0.63, 0.49, 0.35, 0.21, 0.07, 0.0, -0.12, -0.26, -0.4, -0.54, -0.69, -0.76, -0.83, -0.92, -1.01, -1.11, -1.23, -1.35, -1.46, -1.58, -1.72, -1.86, -1.97, -2.15];
const BRIDGE_DENS_HEIGHT = [0, 0.03, 0.08, 0.15, 0.24, 0.3, 0.45, 0.62, 0.78, 0.92, 0.99, 1, 0.98, 0.94, 0.85, 0.72, 0.58, 0.43, 0.28, 0.17, 0.08, 0.04, 0.02, 0];

// Endpoint distribution of Brownian motion at t2 (relative height, 1 = peak)
const END_DENS_VALUE = [3.83, 3.07, 2.58, 2.33, 2.08, 1.79, 1.49, 1.1, 0.85, 0.6, 0.35, 0.21, 0, -0.24, -0.48, -0.73, -1.0, -1.27, -1.57, -1.87, -2.16, -2.46, -2.85, -3.49];
const END_DENS_HEIGHT = [0, 0.022, 0.057, 0.083, 0.136, 0.237, 0.386, 0.588, 0.719, 0.851, 0.947, 0.982, 1, 0.976, 0.895, 0.78, 0.645, 0.5, 0.355, 0.224, 0.136, 0.079, 0.035, 0.009];
const END_DENS_AT_B = 0.66;

// ---------------- styles / layout ----------------
const FONT = "'Open Sans', sans-serif";
const INK = '#2a3f5f';
const BM_COLOR = '#b0c4de';
const BB_COLOR = '#d2691e';
const MARK_COLOR = '#8b0000';

const W = 2716;
const H = 1257;
const AREA = { left: 167, right: 2550, top: 70, bottom: 1115 };

function linBounds(v0: number, p0: number, v1: number, p1: number, lo: number, hi: number) {
  const k = (v1 - v0) / (p1 - p0);
  return [v0 + (lo - p0) * k, v0 + (hi - p0) * k];
}
const [X_MIN, X_MAX] = linBounds(T_START, 284.4, T_END, 2195, AREA.left, AREA.right);
const [XD_MIN, XD_MAX] = linBounds(0, 2312, 1, 2540, AREA.left, AREA.right);
const [XB_LEFT, XB_RIGHT] = linBounds(0, 1716.7, 1, 1560.7, AREA.left, AREA.right);
const [Y_TOP, Y_BOTTOM] = linBounds(A_VALUE, 616.5, B_VALUE, 758.5, AREA.top, AREA.bottom);

const overlayPlugin = {
  id: 'overlay',
  beforeDatasetsDraw(chart: any) {
    const { ctx, chartArea, scales } = chart;
    ctx.save();
    ctx.strokeStyle = BM_COLOR;
    ctx.lineWidth = 3;
    ctx.setLineDash([9, 6]);
    for (const v of [T_START, T_END]) {
      const px = scales.x.getPixelForValue(v);
      ctx.beginPath();
      ctx.moveTo(px, chartArea.top);
      ctx.lineTo(px, chartArea.bottom);
      ctx.stroke();
    }
    ctx.restore();
  },
  afterDatasetsDraw(chart: any) {
    const { ctx, chartArea, scales } = chart;
    ctx.save();
    const pt = scales.x.getPixelForValue(T_MID);
    ctx.strokeStyle = BB_COLOR;
    ctx.lineWidth = 3;
    ctx.setLineDash([14, 4]);
    ctx.beginPath();
    ctx.moveTo(pt, chartArea.top);
    ctx.lineTo(pt, chartArea.bottom);
    ctx.stroke();
    ctx.strokeStyle = MARK_COLOR;
    ctx.lineWidth = 3;
    ctx.setLineDash([12, 8]);
    for (const v of [A_VALUE, B_VALUE]) {
      const py = scales.y.getPixelForValue(v);
      ctx.beginPath();
      ctx.moveTo(chartArea.left, py);
      ctx.lineTo(chartArea.right, py);
      ctx.stroke();
    }
    ctx.restore();
  },
  afterDraw(chart: any) {
    const { ctx } = chart;
    ctx.save();
    ctx.fillStyle = INK;
    ctx.textAlign = 'center';
    ctx.textBaseline = 'alphabetic';
    ctx.font = `55px ${FONT}`;
    ctx.fillText(MAIN_TITLE, 1240, 55);
    ctx.fillText(SIDE_TITLE, 2430, 55);
    ctx.font = `48px ${FONT}`;
    ctx.fillText(X_TITLE, 1240, 1252);
    ctx.restore();
  },
};

function toPoints(p: number[]) {
  const n = Math.min(p.length, TIME.length);
  const pts = [];
  for (let k = 0; k < n; k++) pts.push({ x: TIME[k], y: p[k] });
  return pts;
}

function buildConfig(): any {
  const datasets: any[] = [];
  const midIdx = TIME.indexOf(T_MID);

  BM_PATHS.forEach((p, i) => {
    const pts = toPoints(p);
    datasets.push({
      label: `bm${i + 1}`,
      data: pts,
      xAxisID: 'x',
      yAxisID: 'y',
      borderColor: BM_COLOR,
      borderWidth: 2.2,
      pointRadius: pts.map((_, k) => (k === pts.length - 1 ? 6 : 0)),
      pointBackgroundColor: BM_COLOR,
      pointBorderWidth: 0,
      pointHoverRadius: 0,
      fill: false,
      tension: 0,
      order: 50,
    });
  });

  datasets.push({
    label: 'endpoint density',
    data: END_DENS_VALUE.map((v, k) => ({ x: END_DENS_HEIGHT[k], y: v })),
    xAxisID: 'xd',
    yAxisID: 'y',
    borderColor: BM_COLOR,
    borderWidth: 5,
    backgroundColor: 'rgba(176,196,222,0.55)',
    fill: 'shape',
    pointRadius: 0,
    tension: 0.3,
    order: 45,
  });

  datasets.push({
    label: 'density at b',
    data: [{ x: END_DENS_AT_B, y: B_VALUE }, { x: 0, y: B_VALUE }],
    xAxisID: 'xd',
    yAxisID: 'y',
    borderColor: 'rgba(210,105,30,0.5)',
    borderWidth: 12,
    borderCapStyle: 'butt',
    pointRadius: 0,
    fill: false,
    order: 44,
  });

  datasets.push({
    label: 'bridge density at t',
    data: BRIDGE_DENS_VALUE.map((v, k) => ({ x: BRIDGE_DENS_HEIGHT[k], y: v })),
    xAxisID: 'xb',
    yAxisID: 'y',
    borderColor: BB_COLOR,
    borderWidth: 1.5,
    backgroundColor: 'rgba(210,105,30,0.5)',
    fill: 'shape',
    pointRadius: 0,
    tension: 0.3,
    order: 40,
  });

  BB_PATHS.forEach((p, i) => {
    const pts = toPoints(p);
    datasets.push({
      label: `bb${i + 1}`,
      data: pts,
      xAxisID: 'x',
      yAxisID: 'y',
      borderColor: BB_COLOR,
      borderWidth: 3.5,
      pointRadius: pts.map((_, k) => (k === midIdx ? 5.5 : 0)),
      pointBackgroundColor: BB_COLOR,
      pointBorderWidth: 0,
      pointHoverRadius: 0,
      fill: false,
      tension: 0,
      order: 30,
    });
  });

  datasets.push({
    label: 'a and b',
    data: [{ x: T_START, y: A_VALUE }, { x: T_END, y: B_VALUE }],
    xAxisID: 'x',
    yAxisID: 'y',
    showLine: false,
    pointRadius: 7,
    pointBackgroundColor: MARK_COLOR,
    pointBorderWidth: 0,
    order: 5,
  });

  return {
    type: 'line',
    data: { datasets },
    plugins: [overlayPlugin],
    options: {
      responsive: false,
      animation: false,
      devicePixelRatio: 1,
      events: [],
      layout: { padding: { left: 0, top: AREA.top, right: W - AREA.right, bottom: 0 } },
      plugins: { legend: { display: false }, tooltip: { enabled: false }, title: { display: false } },
      scales: {
        x: {
          type: 'linear',
          position: 'bottom',
          min: X_MIN,
          max: X_MAX,
          grid: { display: false, drawTicks: false },
          border: { display: false },
          afterBuildTicks: (scale: any) => {
            scale.ticks = X_TICK_VALUES.map((v) => ({ value: v }));
          },
          afterFit: (scale: any) => {
            scale.height = H - AREA.bottom;
          },
          ticks: {
            autoSkip: false,
            maxRotation: 0,
            padding: 5,
            color: INK,
            font: { family: FONT, size: 41 },
            callback: (_v: any, i: number) => X_TICK_LABELS[i],
          },
        },
        xd: { type: 'linear', display: false, min: XD_MIN, max: XD_MAX },
        xb: { type: 'linear', display: false, reverse: true, min: XB_RIGHT, max: XB_LEFT },
        y: {
          type: 'linear',
          position: 'left',
          min: Y_BOTTOM,
          max: Y_TOP,
          grid: { display: false, drawTicks: false },
          border: { display: false },
          afterBuildTicks: (scale: any) => {
            scale.ticks = Y_TICK_VALUES.map((v) => ({ value: v }));
          },
          afterFit: (scale: any) => {
            scale.width = AREA.left;
          },
          ticks: {
            autoSkip: false,
            padding: 5,
            color: INK,
            font: { family: FONT, size: 41 },
            callback: (_v: any, i: number) => Y_TICK_LABELS[i],
          },
          title: {
            display: true,
            text: Y_TITLE,
            color: INK,
            font: { family: FONT, size: 48 },
            padding: { top: 22, bottom: 0 },
          },
        },
      },
    },
  };
}

export default function App() {
  const ref = useRef<HTMLCanvasElement>(null);
  useEffect(() => {
    let chart: Chart | null = null;
    let cancelled = false;
    const make = () => {
      if (cancelled || !ref.current) return;
      chart = new Chart(ref.current, buildConfig());
    };
    const fontsApi = (document as any).fonts;
    if (fontsApi && fontsApi.load) {
      Promise.all([fontsApi.load(`55px ${FONT}`), fontsApi.load(`41px ${FONT}`)]).then(make, make);
    } else {
      make();
    }
    return () => {
      cancelled = true;
      if (chart) chart.destroy();
    };
  }, []);
  return (
    <div style={{ position: 'fixed', left: 0, top: 0, width: W, height: H, background: '#ffffff' }}>
      <canvas ref={ref} width={W} height={H} style={{ display: 'block', width: `${W}px`, height: `${H}px` }} />
    </div>
  );
}
